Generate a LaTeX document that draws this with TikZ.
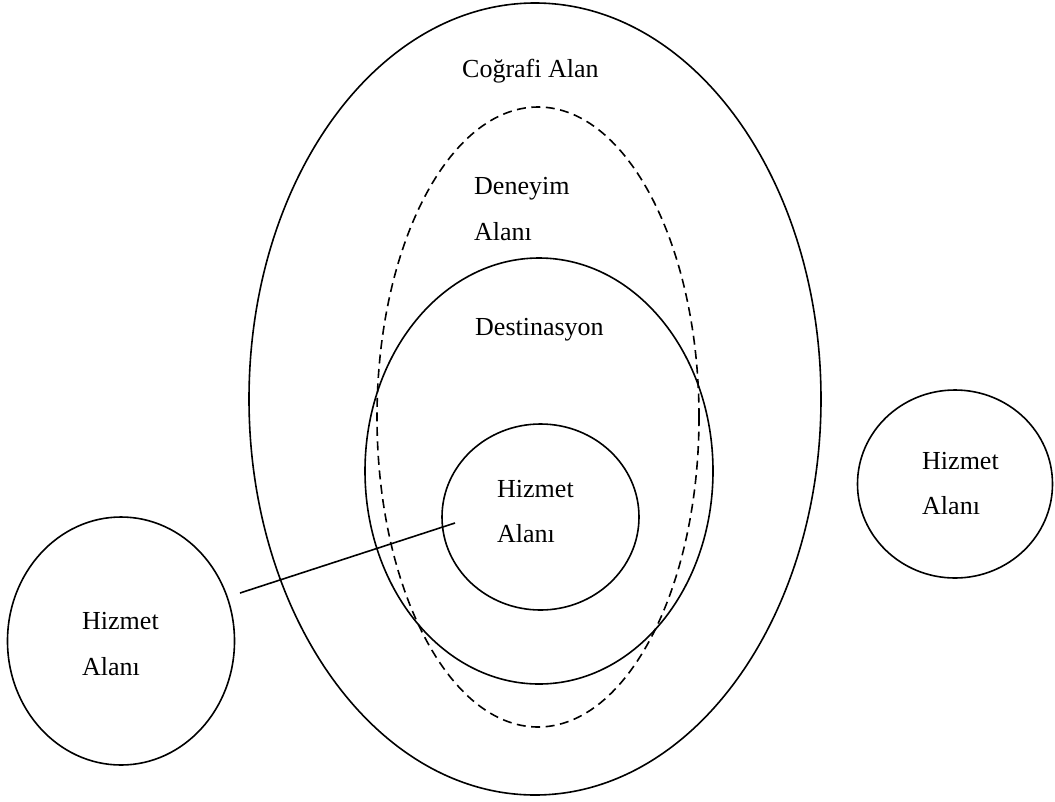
\documentclass[tikz,border=0pt]{standalone}
\usepackage{fontspec}
\setmainfont{Liberation Serif}
\usetikzlibrary{shapes.geometric}
\begin{document}
\begin{tikzpicture}[x=1pt,y=-1pt,
  zone/.style={ellipse, draw, line width=1.6pt, inner sep=0pt, outer sep=0pt},
  dashedzone/.style={zone, dash pattern=on 9pt off 5.5pt},
  areatext/.style={anchor=base west, inner sep=0pt, font=\fontsize{26}{30}\selectfont},
  connector/.style={line width=1.6pt}]
\useasboundingbox (0,0) rectangle (1055,801);

% nested areas
\node[zone, minimum width=572pt, minimum height=792pt] (geo) at (535,399) {};
\node[dashedzone, minimum width=322pt, minimum height=620pt] (exp) at (538,417) {};
\node[zone, minimum width=348pt, minimum height=426pt] (dest) at (539,471) {};
\node[zone, minimum width=197pt, minimum height=186pt] (srvin) at (540.5,517) {};

% outside service areas
\node[zone, minimum width=227pt, minimum height=248pt] (srvleft) at (121,641) {};
\node[zone, minimum width=195pt, minimum height=188pt] (srvright) at (955,484) {};

% texts
\node[areatext] (tgeo) at (462,77) {Coğrafi Alan};
\node[areatext] (texp1) at (474,194) {Deneyim};
\node[areatext] (texp2) at (474,240) {Alanı};
\node[areatext] (tdest) at (475,335) {Destinasyon};
\node[areatext] (tin1) at (497,497) {Hizmet};
\node[areatext] (tin2) at (497,542) {Alanı};
\node[areatext] (tl1) at (82,629) {Hizmet};
\node[areatext] (tl2) at (82,675) {Alanı};
\node[areatext] (tr1) at (922,469) {Hizmet};
\node[areatext] (tr2) at (922,514) {Alanı};

% link between the outside area and the inner service area
\coordinate (linkfrom) at (240,593);
\coordinate (linkto) at (455,523);
\draw[connector] (linkfrom) -- (linkto);
\end{tikzpicture}
\end{document}
